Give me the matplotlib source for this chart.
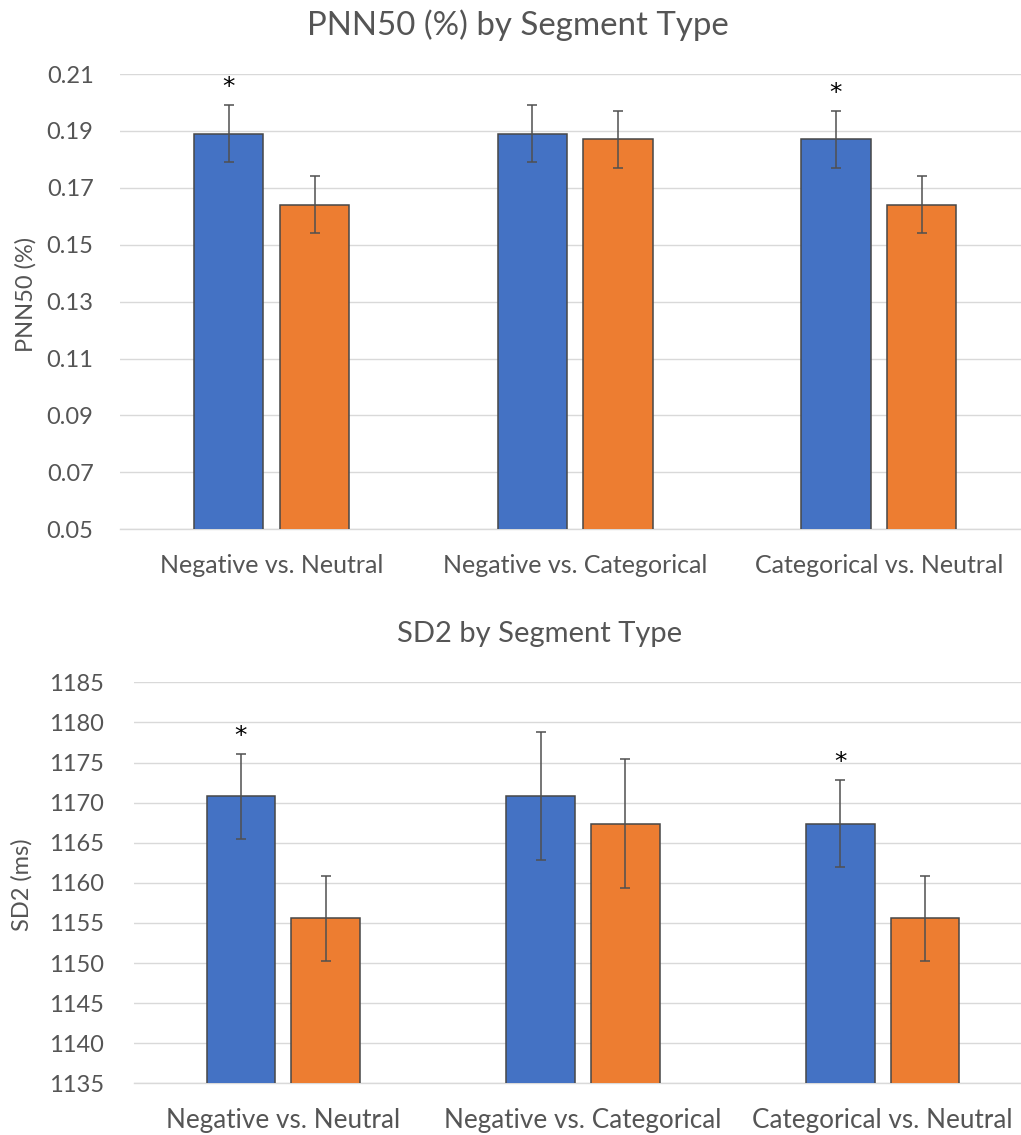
import numpy as np
import matplotlib
matplotlib.use("Agg")
import matplotlib.pyplot as plt

plt.rcParams['font.family'] = ['Lato', 'DejaVu Sans']

categories = ["Negative vs. Neutral", "Negative vs. Categorical", "Categorical vs. Neutral"]

# PNN50 (%) means and error bars (first / second segment of each comparison)
pnn_first = [0.189, 0.189, 0.187]
pnn_second = [0.164, 0.187, 0.164]
pnn_first_err = [0.010, 0.010, 0.010]
pnn_second_err = [0.010, 0.010, 0.010]
pnn_sig = [True, False, True]

# SD2 (ms)
sd2_first = [1170.8, 1170.8, 1167.4]
sd2_second = [1155.6, 1167.4, 1155.6]
sd2_first_err = [5.3, 8.0, 5.4]
sd2_second_err = [5.3, 8.0, 5.3]
sd2_sig = [True, False, True]

BLUE = "#4472C4"
ORANGE = "#ED7D31"
TXT = "#555555"
GRID = "#D9D9D9"
EDGE = "#474747"

fig = plt.figure(figsize=(10.21, 11.35), dpi=100)


def panel(ax, first, second, e1, e2, sig, yticks, ylim, pad_y, xsize, xpad):
    x = np.arange(len(categories))
    w = 0.229
    off = 0.1416
    ax.bar(x - off, first, w, color=BLUE, edgecolor=EDGE, linewidth=1.1, zorder=3)
    ax.bar(x + off, second, w, color=ORANGE, edgecolor=EDGE, linewidth=1.1, zorder=3)
    ax.errorbar(x - off, first, yerr=e1, fmt='none', ecolor="#505050", elinewidth=1.1,
                capsize=3.5, capthick=1.1, zorder=4)
    ax.errorbar(x + off, second, yerr=e2, fmt='none', ecolor="#505050", elinewidth=1.1,
                capsize=3.5, capthick=1.1, zorder=4)
    for i, s in enumerate(sig):
        if s:
            ax.annotate("*", (x[i] - off, first[i] + e1[i]), xytext=(0, 13),
                        textcoords="offset points", ha="center", va="center",
                        fontsize=18, color="black", family="DejaVu Sans")
    ax.set_xlim(-0.5, len(categories) - 0.5)
    ax.set_ylim(*ylim)
    ax.set_yticks(yticks)
    ax.set_xticks(x)
    ax.set_xticklabels(categories, fontsize=xsize)
    ax.tick_params(axis='both', length=0, colors=TXT)
    ax.tick_params(axis='y', labelsize=17, pad=pad_y)
    ax.tick_params(axis='x', pad=xpad)
    ax.grid(axis='y', color=GRID, linewidth=1.0, zorder=0)
    ax.set_axisbelow(True)
    for s in ['top', 'right', 'left']:
        ax.spines[s].set_visible(False)
    ax.spines['bottom'].set_color(GRID)
    ax.spines['bottom'].set_linewidth(1.0)


ax1 = fig.add_axes([0.1175, 0.5337, 0.8918, 0.4011])
panel(ax1, pnn_first, pnn_second, pnn_first_err, pnn_second_err, pnn_sig,
      [0.05, 0.07, 0.09, 0.11, 0.13, 0.15, 0.17, 0.19, 0.21], (0.05, 0.21), 19, 18, 18)
ax1.set_yticklabels(["0.05", "0.07", "0.09", "0.11", "0.13", "0.15", "0.17", "0.19", "0.21"])

ax2 = fig.add_axes([0.1308, 0.0455, 0.8805, 0.3533])
panel(ax2, sd2_first, sd2_second, sd2_first_err, sd2_second_err, sd2_sig,
      list(range(1135, 1186, 5)), (1135, 1185), 21, 18.8, 18)

fig.text(518 / 1021, 1 - 25 / 1135, "PNN50 (%) by Segment Type", ha="center", va="center",
         fontsize=23.8, color=TXT)
fig.text(540 / 1021, 1 - 634 / 1135, "SD2 by Segment Type", ha="center", va="center",
         fontsize=21, color=TXT)
fig.text(26 / 1021, 1 - 294 / 1135, "PNN50 (%)", rotation=90, ha="center", va="center",
         fontsize=17, color=TXT)
fig.text(22 / 1021, 1 - 885 / 1135, "SD2 (ms)", rotation=90, ha="center", va="center",
         fontsize=17, color=TXT)

fig.savefig("out.png", dpi=100)
